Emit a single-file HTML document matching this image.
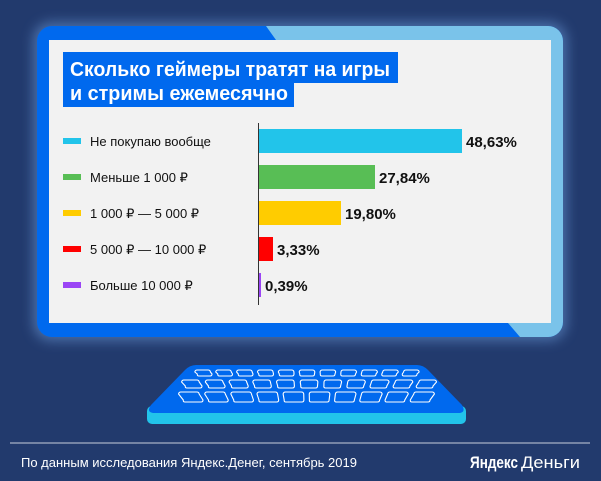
<!DOCTYPE html>
<html><head><meta charset="utf-8"><style>
html,body{margin:0;padding:0}
body{width:601px;height:481px;background:#223a6d;overflow:hidden;position:relative;font-family:"Liberation Sans",sans-serif}
svg{position:absolute;left:0;top:0}
</style></head><body>
<svg width="601" height="481" viewBox="0 0 601 481" xmlns="http://www.w3.org/2000/svg">
<defs>
<filter id="gl" x="-20%" y="-20%" width="140%" height="140%"><feGaussianBlur stdDeviation="6"/></filter>
<clipPath id="fr"><rect x="37" y="26" width="526" height="311" rx="15"/></clipPath>
</defs>
<rect x="33" y="22" width="534" height="319" rx="18" fill="#6a9ad8" opacity="0.55" filter="url(#gl)"/>
<g clip-path="url(#fr)">
<rect x="37" y="26" width="526" height="311" fill="#0069ee"/>
<polygon points="266,26 563,26 563,337 520,337 508,323 551,323 551,40 276,40" fill="#7ac3ea"/>
</g>
<rect x="49" y="40" width="502" height="283" fill="#f2f2f2"/>
<rect x="63" y="52" width="335" height="31" fill="#0069ee"/>
<rect x="63" y="83" width="231" height="24" fill="#0069ee"/>
<text x="70" y="76" font-size="20" font-weight="bold" fill="#fff" textLength="320" lengthAdjust="spacingAndGlyphs">Сколько геймеры тратят на игры</text>
<text x="70" y="100" font-size="20" font-weight="bold" fill="#fff" textLength="218" lengthAdjust="spacingAndGlyphs">и стримы ежемесячно</text>
<line x1="258.5" y1="123" x2="258.5" y2="305" stroke="#333" stroke-width="1"/>
<g font-size="13" fill="#111">
<rect x="63" y="138" width="18" height="6" fill="#22c4ea"/><text x="90" y="146">Не покупаю вообще</text>
<rect x="63" y="174" width="18" height="6" fill="#58be55"/><text x="90" y="182">Меньше 1 000 ₽</text>
<rect x="63" y="210" width="18" height="6" fill="#ffcc00"/><text x="90" y="218">1 000 ₽ — 5 000 ₽</text>
<rect x="63" y="246" width="18" height="6" fill="#ff0000"/><text x="90" y="254">5 000 ₽ — 10 000 ₽</text>
<rect x="63" y="282" width="18" height="6" fill="#9b45f5"/><text x="90" y="290">Больше 10 000 ₽</text>
</g>
<rect x="259" y="129" width="203" height="24" fill="#22c4ea"/>
<rect x="259" y="165" width="116" height="24" fill="#58be55"/>
<rect x="259" y="201" width="82" height="24" fill="#ffcc00"/>
<rect x="259" y="237" width="14" height="24" fill="#ff0000"/>
<rect x="259" y="273" width="2" height="24" fill="#9b45f5"/>
<g font-size="15" font-weight="bold" fill="#111">
<text x="466" y="147">48,63%</text>
<text x="379" y="183">27,84%</text>
<text x="345" y="219">19,80%</text>
<text x="277" y="255">3,33%</text>
<text x="265" y="291">0,39%</text>
</g>
<rect x="147" y="406" width="319" height="18" rx="5" fill="#22c4ea"/>
<path d="M196,365 L417,365 Q423,365 428,370 L462,405 Q466,412 460,413 L153,413 Q146,412 151,405 L185,370 Q190,365 196,365 Z" fill="#0069ee"/>
<g fill="none" stroke="#fff" stroke-width="1.1" stroke-linejoin="round" id="keys"></g>
<line x1="10" y1="443" x2="590" y2="443" stroke="#c8cfdc" stroke-width="1"/>
<text x="21" y="467" font-size="13" fill="#fff">По данным исследования Яндекс.Денег, сентябрь 2019</text>
<text x="470" y="468" font-size="17" font-weight="bold" fill="#fff" textLength="48" lengthAdjust="spacingAndGlyphs">Яндекс</text>
<text x="521" y="468" font-size="17" fill="#fff" textLength="59" lengthAdjust="spacingAndGlyphs">Деньги</text>
</svg>
<script>
var g=document.getElementById('keys'),s='';
function row(n,x0,x1,y,h,w,sk){var step=(x1-x0-w)/(n-1);for(var i=0;i<n;i++){var x=x0+i*step;var c=(x+w/2-307)/110*sk;var r=2;
var a=x+c,b=x+w+c,d=x+w,e=x;
s+='<path d="M'+(a+r)+','+y+' L'+(b-r)+','+y+' Q'+b+','+y+' '+(b+0.3)+','+(y+r)+' L'+d+','+(y+h-r)+' Q'+d+','+(y+h)+' '+(d-r)+','+(y+h)+' L'+(e+r)+','+(y+h)+' Q'+e+','+(y+h)+' '+(e+0.3)+','+(y+h-r)+' L'+(a-0.3)+','+(y+r)+' Q'+a+','+y+' '+(a+r)+','+y+' Z"/>';}}
row(11,197,417,370,6,15,2);row(11,185,433,380,8,17,3);row(10,183,430,392,10,20,4);
g.innerHTML=s;
</script>
</body></html>
